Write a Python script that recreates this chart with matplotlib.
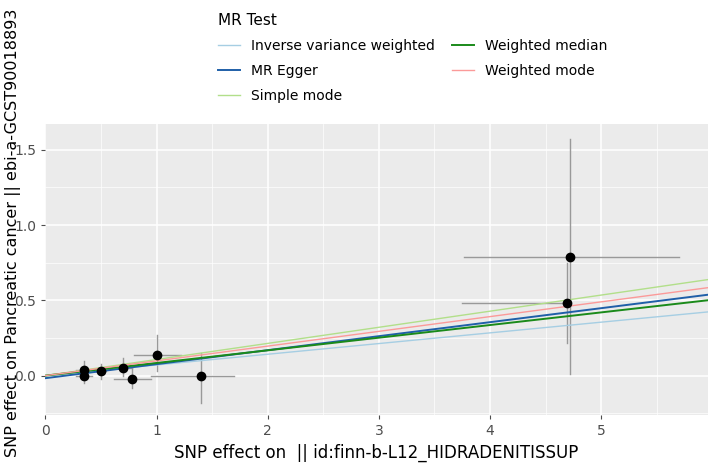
import numpy as np
import matplotlib.pyplot as plt
from matplotlib.lines import Line2D

# SNP data
bx = [0.35, 0.35, 0.50, 0.70, 0.78, 1.00, 1.40, 4.69, 4.72]
by = [0.04, 0.00, 0.03, 0.05, -0.02, 0.14, 0.00, 0.48, 0.79]
bx_lo = [0.28, 0.28, 0.45, 0.62, 0.62, 0.80, 0.95, 3.75, 3.77]
bx_hi = [0.42, 0.42, 0.55, 0.78, 0.95, 1.22, 1.70, 4.70, 5.70]
by_lo = [-0.02, -0.05, -0.02, 0.00, -0.08, 0.03, -0.18, 0.22, 0.01]
by_hi = [0.10, 0.06, 0.08, 0.12, 0.05, 0.27, 0.15, 0.75, 1.57]

methods = ['Inverse variance weighted', 'MR Egger', 'Simple mode', 'Weighted median', 'Weighted mode']
slopes = [0.071, 0.093, 0.107, 0.084, 0.098]
intercepts = [0.0, -0.017, 0.0, 0.0, 0.0]
colors = ['#a6cee3', '#1f5fa8', '#b2df8a', '#1a8a1a', '#fb9a99']
widths = [1.0, 1.4, 1.0, 1.4, 1.0]

fig = plt.figure(figsize=(7.08, 4.65), dpi=100)
ax = fig.add_axes([0.064, 0.108, 0.936, 0.625])
ax.set_facecolor('#ebebeb')
ax.set_xlim(0, 5.96)
ax.set_ylim(-0.26, 1.67)
ax.set_xticks([0, 1, 2, 3, 4, 5])
ax.set_yticks([0.0, 0.5, 1.0, 1.5])
ax.set_yticklabels(['0.0', '0.5', '1.0', '1.5'])
ax.set_xticks(np.arange(0.5, 6, 1), minor=True)
ax.set_yticks([-0.25, 0.25, 0.75, 1.25], minor=True)
ax.grid(True, which='major', color='white', lw=1.1)
ax.grid(True, which='minor', color='white', lw=0.5)
ax.set_axisbelow(True)
for s in ax.spines.values():
    s.set_visible(False)
ax.tick_params(which='major', colors='#4d4d4d', labelsize=10, length=3)
ax.tick_params(which='minor', length=0)
for lab in ax.get_xticklabels() + ax.get_yticklabels():
    lab.set_color('#4d4d4d')

for i in range(len(bx)):
    ax.plot([bx_lo[i], bx_hi[i]], [by[i], by[i]], color='#999999', lw=1, zorder=2)
    ax.plot([bx[i], bx[i]], [by_lo[i], by_hi[i]], color='#999999', lw=1, zorder=2)
ax.scatter(bx, by, color='black', s=36, zorder=4)

xs = np.array([0, 5.96])
for m, b, a, c, w in zip(methods, slopes, intercepts, colors, widths):
    ax.plot(xs, a + b * xs, color=c, lw=w, zorder=3)

ax.set_xlabel('SNP effect on  || id:finn-b-L12_HIDRADENITISSUP', fontsize=12)
fig.text(0.018, 0.5, 'SNP effect on Pancreatic cancer || ebi-a-GCST90018893',
         rotation=90, fontsize=11.5, ha='center', va='center')

handles = [Line2D([], [], color=c, lw=w) for c, w in zip(colors, widths)]
leg = fig.legend(handles, methods,
                 title='MR Test', loc='upper left', bbox_to_anchor=(0.29, 1.0),
                 ncol=2, frameon=False, fontsize=10, title_fontsize=11,
                 handlelength=1.6, columnspacing=1.2, labelspacing=0.8,
                 alignment='left')
plt.savefig('out.png', dpi=100)
